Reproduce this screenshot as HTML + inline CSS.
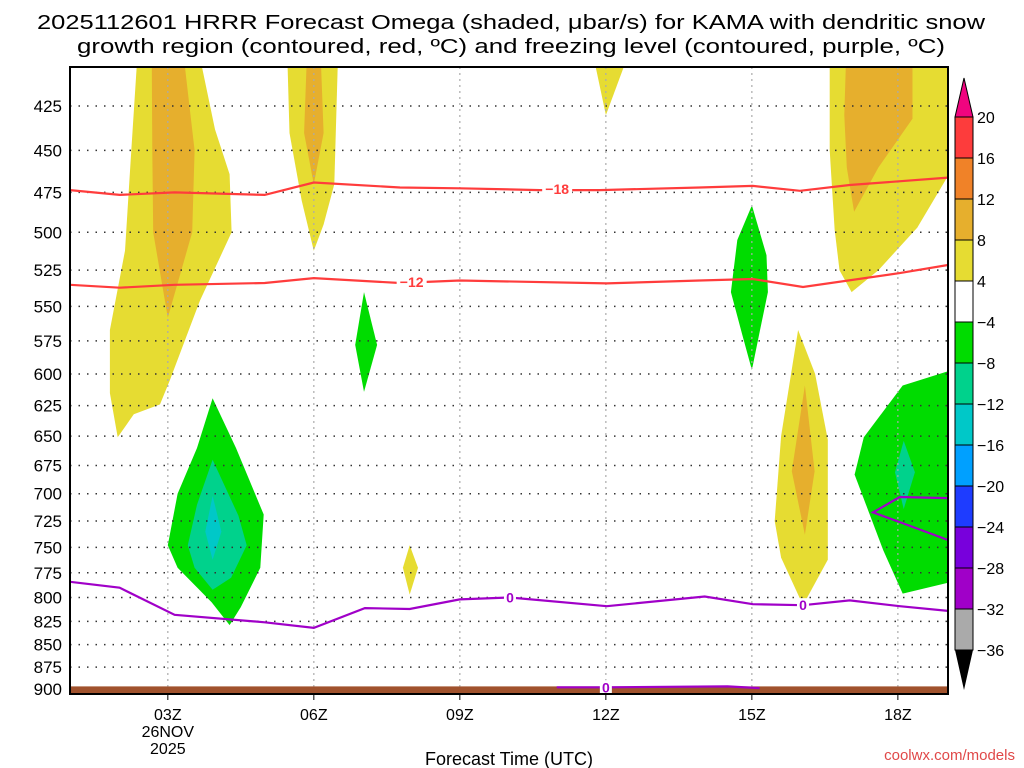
<!DOCTYPE html>
<html><head><meta charset="utf-8"><style>
html,body{margin:0;padding:0;background:#fff;}
svg{display:block;font-family:"Liberation Sans",sans-serif;}
</style></head><body>
<svg id="chart" width="1024" height="768" viewBox="0 0 1024 768" xmlns="http://www.w3.org/2000/svg">
<text x="511" y="29" font-size="20" text-anchor="middle" textLength="948" lengthAdjust="spacingAndGlyphs">2025112601 HRRR Forecast Omega (shaded, μbar/s) for KAMA with dendritic snow</text>
<text x="511" y="53" font-size="20" text-anchor="middle" textLength="868" lengthAdjust="spacingAndGlyphs">growth region (contoured, red, ºC) and freezing level (contoured, purple, ºC)</text>
<g id="plot"></g>
<text x="509" y="765" font-size="18" text-anchor="middle">Forecast Time (UTC)</text>
<text x="1015" y="760" font-size="15" text-anchor="end" fill="#e04848">coolwx.com/models</text>
<g id="cbar"></g>
</svg>
<script>
// ---- data ----
const pressureTicks = [425,450,475,500,525,550,575,600,625,650,675,700,725,750,775,800,825,850,875,900];
const hourTicks = [3,6,9,12,15,18];
const hourTickLabels = ["03Z","06Z","09Z","12Z","15Z","18Z"];
const dateLabels = ["26NOV","2025"];
const colorLevels = [20,16,12,8,4,-4,-8,-12,-16,-20,-24,-28,-32,-36];
const colorBands = ["#fd3c3c","#f08228","#e6af2d","#e6dc32","#ffffff","#00dc00","#00d28c","#00c8c8","#00a0ff","#1e3cff","#7800dc","#a000c8","#aaaaaa"];

const yellowLeft = [[2.36,404],[3.70,404],[3.97,438],[4.27,464],[4.31,500],[3.66,546],[3.04,605],[2.84,624],[2.3,632],[1.97,651],[1.81,615],[1.81,567],[2.12,512],[2.25,450]];
const orangeLeft = [[2.67,404],[3.35,404],[3.55,450],[3.5,500],[3.0,558],[2.7,500],[2.68,450]];
const yellowSix = [[5.46,404],[6.49,404],[6.42,470],[6.2,495],[6.0,512],[5.75,480],[5.5,440]];
const orangeSix = [[5.85,404],[6.15,404],[6.2,440],[6.0,470],[5.8,440]];
const greenSeven = [[7.03,540],[7.3,578],[7.03,614],[6.85,578]];
const yellowEight = [[7.97,748],[8.14,770],[7.97,797],[7.83,770]];
const greenFour = [[3.92,619],[4.4,660],[4.97,719],[4.9,770],[4.5,810],[4.27,829],[3.9,805],[3.2,770],[3.0,748],[3.2,700],[3.6,660]];
const tealFour = [[3.92,670],[4.45,720],[4.62,748],[4.3,780],[3.92,792],[3.55,770],[3.41,748],[3.6,710]];
const cyanFour = [[3.92,702],[4.1,735],[3.92,762],[3.77,735]];
const yellowTwelve = [[11.79,404],[12.37,404],[12.0,430]];
const greenFifteen = [[15.0,483],[15.3,515],[15.33,540],[15.15,570],[15.0,597],[14.8,570],[14.57,540],[14.7,505]];
const yellowSixteen = [[15.95,567],[16.3,600],[16.56,653],[16.56,762],[16.05,808],[15.6,760],[15.47,725],[15.6,650]];
const orangeSixteen = [[16.09,609],[16.29,680],[16.09,738],[15.82,680]];
const yellowRight = [[16.6,404],[19.03,404],[19.03,465],[18.4,497],[17.6,525],[17.05,540],[16.8,525],[16.7,498],[16.6,450]];
const orangeRight = [[16.93,404],[18.3,404],[18.3,432],[17.6,460],[17.1,487],[16.95,460],[16.9,430]];
const greenRight = [[19.03,598],[18.1,609],[17.3,651],[17.11,683],[17.7,753],[18.1,796],[19.03,785]];
const tealRight = [[18.12,654],[18.35,681],[18.12,714],[17.94,681]];

const line18 = [[0.99,473.6],[2.01,476.5],[3.14,475],[4.99,476.5],[6.0,469],[7.77,472],[9.0,472.5],[10.64,473.6],[11.88,473.6],[13.93,472],[15.02,471],[15.99,474],[17.01,470.5],[19.03,466]];
const line12 = [[0.99,535],[2.01,537],[3.14,535],[4.99,533.7],[6.0,530.4],[7.77,533.7],[9.0,532],[12.02,534],[13.93,532],[15.02,531],[16.05,536.5],[18.04,527],[19.03,521.5]];
const line0 = [[0.99,784],[2.01,790],[3.14,818],[4.99,826],[6.0,832],[7.05,811],[7.97,812],[9.0,802],[10.03,800],[12.02,809],[14.03,799],[15.02,807],[16.05,808],[17.01,803],[18.04,809],[19.03,814]];
const line0loop = [[19.03,704],[18.04,703],[17.49,717],[18.04,726],[19.03,743]];
const line0low = [[10.99,898],[12.0,898],[14.5,897],[15.16,899]];
const contourLabels = [["−18",11.0,473,"#ff3c3c"],["−12",8.01,533,"#ff3c3c"],["0",10.03,800,"#a000c8"],["0",16.05,808,"#a000c8"],["0",12.0,898,"#a000c8"]];

// ---- axes ----
const X0=70,X1=948,Y0=67,Y1=694,H0=0.99,H1=19.03;
const xs=h=>X0+(h-H0)/(H1-H0)*(X1-X0);
const ys=p=>106+777*Math.log(p/425);
const NS="http://www.w3.org/2000/svg";
function mk(tag,attrs,parent){const e=document.createElementNS(NS,tag);for(const k in attrs)e.setAttribute(k,attrs[k]);parent.appendChild(e);return e;}
const plot=document.getElementById('plot');
const svg=document.getElementById('chart');
const clip=mk('clipPath',{id:'pc'},svg);
mk('rect',{x:X0,y:Y0,width:X1-X0,height:Y1-Y0},clip);
const inner=mk('g',{'clip-path':'url(#pc)'},plot);


const pts=a=>a.map(d=>xs(d[0]).toFixed(1)+','+ys(d[1]).toFixed(1)).join(' ');
const shapes=[[yellowLeft,"#e6dc32","yellow-region-03z"],[orangeLeft,"#e6af2d","orange-region-03z"],[yellowSix,"#e6dc32","yellow-region-06z"],[orangeSix,"#e6af2d","orange-region-06z"],[greenSeven,"#00dc00","green-region-07z"],[yellowEight,"#e6dc32","yellow-region-08z"],[greenFour,"#00dc00","green-region-04z"],[tealFour,"#00d28c","teal-region-04z"],[cyanFour,"#00c8c8","cyan-region-04z"],[yellowTwelve,"#e6dc32","yellow-region-12z"],[greenFifteen,"#00dc00","green-region-15z"],[yellowSixteen,"#e6dc32","yellow-region-16z"],[orangeSixteen,"#e6af2d","orange-region-16z"],[yellowRight,"#e6dc32","yellow-region-18z"],[orangeRight,"#e6af2d","orange-region-18z"],[greenRight,"#00dc00","green-region-18z"],[tealRight,"#00d28c","teal-region-18z"]];
shapes.forEach(s=>{
  const e=mk('polygon',{points:pts(s[0]),fill:s[1]},inner);
  
  
});
// grid
pressureTicks.forEach(p=>{
  const g=mk('line',{x1:X0,x2:X1,y1:ys(p),y2:ys(p),stroke:'#333','stroke-width':1.5,'stroke-dasharray':'1.5 7'},inner);
  
  
});
hourTicks.forEach(h=>{
  const g=mk('line',{x1:xs(h),x2:xs(h),y1:Y0,y2:Y1,stroke:'#aaa','stroke-width':1.2,'stroke-dasharray':'2 4'},inner);
  
  
});
// ground
const gr=mk('rect',{x:X0,y:ys(897),width:X1-X0,height:Y1-ys(897),fill:'#a0522d'},inner);


// contours
[[line18,"#ff3c3c","contour-minus-18"],[line12,"#ff3c3c","contour-minus-12"],[line0,"#a000c8","freezing-level"],[line0loop,"#a000c8","freezing-level-loop"],[line0low,"#a000c8","freezing-level-surface"]].forEach(l=>{
  const e=mk('polyline',{points:pts(l[0]),fill:'none',stroke:l[1],'stroke-width':2.2},inner);
  
  
});
contourLabels.forEach(c=>{
  const x=xs(c[1]),y=ys(c[2]);
  const w=c[0].length>1?30:12;
  mk('rect',{x:x-w/2,y:y-7,width:w,height:14,fill:'#fff'},inner);
  const t=mk('text',{x:x,y:y+5,'font-size':14,'font-weight':'bold','text-anchor':'middle',fill:c[3]},inner);
  t.textContent=c[0];
  
  
});
// frame
const fr=mk('rect',{x:X0,y:Y0,width:X1-X0,height:Y1-Y0,fill:'none',stroke:'#000','stroke-width':2},plot);


// y labels
pressureTicks.forEach(p=>{
  const t=mk('text',{x:62,y:ys(p)+6,'font-size':17,'text-anchor':'end'},plot);
  t.textContent=p;
  
  
});
hourTicks.forEach((h,i)=>{
  mk('line',{x1:xs(h),x2:xs(h),y1:Y1,y2:Y1+6,stroke:'#000','stroke-width':1},plot);
  const t=mk('text',{x:xs(h),y:720,'font-size':16,'text-anchor':'middle'},plot);
  t.textContent=hourTickLabels[i];
  
  
});
dateLabels.forEach((d,i)=>{
  const t=mk('text',{x:xs(3),y:737+i*17,'font-size':16,'text-anchor':'middle'},plot);
  t.textContent=d;
  
  
});
// colorbar
const cb=document.getElementById('cbar');
const CX=955,CW=18,CY0=117,CS=41;
colorBands.forEach((c,i)=>{
  const r=mk('rect',{x:CX,y:CY0+i*CS,width:CW,height:CS,fill:c,stroke:'#000','stroke-width':1},cb);
  
  
});
const ta=mk('polygon',{points:`${CX},${CY0} ${CX+CW},${CY0} ${CX+CW/2},78`,fill:'#f0047f',stroke:'#000','stroke-width':1},cb);


const yb=CY0+colorBands.length*CS;
const ba=mk('polygon',{points:`${CX},${yb} ${CX+CW},${yb} ${CX+CW/2},690`,fill:'#000'},cb);


colorLevels.forEach((v,i)=>{
  const t=mk('text',{x:977,y:CY0+i*CS+6,'font-size':16},cb);
  t.textContent=v<0?'−'+Math.abs(v):String(v);
  
  
});
</script>
</body></html>
